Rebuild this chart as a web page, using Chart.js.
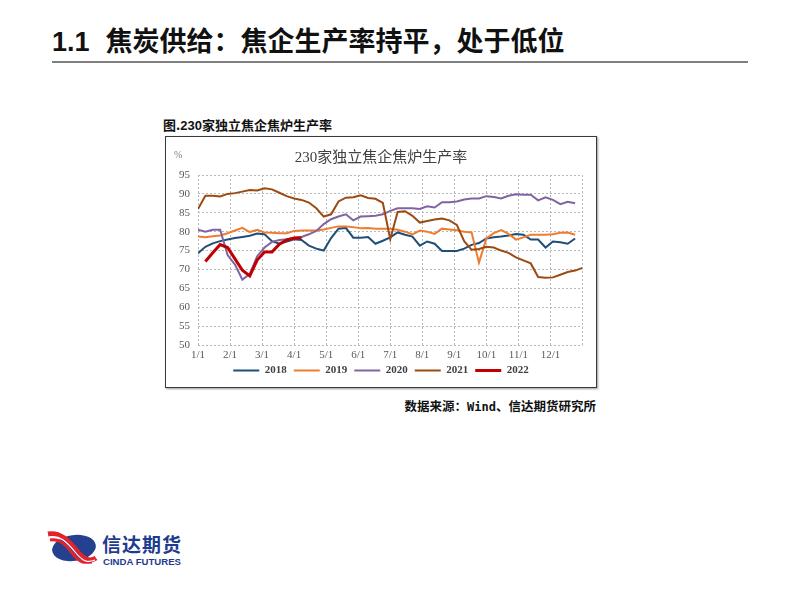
<!DOCTYPE html>
<html>
<head>
<meta charset="utf-8">
<script src="https://cdn.jsdelivr.net/npm/chart.js@4/dist/chart.umd.min.js"></script>
<style>
  html, body { margin: 0; padding: 0; background: #fff; }
  body { width: 802px; height: 602px; position: relative; overflow: hidden; font-family: 'Noto Sans CJK SC', sans-serif; }
  .slide-title { position: absolute; left: 52px; top: 22px; font-size: 27px; font-weight: 700; color: #111; white-space: nowrap; line-height: 36px; }
  .slide-title .num { font-family: 'Liberation Sans Narrow', 'Liberation Sans', sans-serif; margin-right: 16px; }
  .rule { position: absolute; left: 52px; top: 61px; width: 696px; height: 2px; background: #7f7f7f; }
  .caption { position: absolute; left: 163px; top: 115px; font-size: 13px; font-weight: 700; color: #111; white-space: nowrap; }
  .caption .num { font-family: 'Liberation Sans', sans-serif; }
  .box { position: absolute; left: 165px; top: 136px; width: 430px; height: 250px; border: 1px solid #3a3a3a; box-shadow: 1px 1px 2px #999; }
  .box canvas { position: absolute; left: 0; top: 0; }
  .unit { position: absolute; left: 8px; top: 12px; font-family: 'Liberation Serif', serif; font-size: 10px; color: #7f7f7f; }
  .source { position: absolute; right: 206px; top: 396px; font-size: 12.5px; font-weight: 700; color: #111; white-space: nowrap; }
  .source .latin { font-family: 'DejaVu Sans Mono', monospace; font-size: 12px; }
  .logo { position: absolute; left: 46px; top: 528px; }
  .brand { position: absolute; left: 102px; top: 533px; font-size: 19px; font-weight: 700; color: #1f3b8f; letter-spacing: 1px; line-height: 22px; }
  .brand-en { position: absolute; left: 103px; top: 556px; font-family: 'Liberation Sans', sans-serif; font-size: 9.6px; font-weight: 700; color: #1f3b8f; }
</style>
</head>
<body>
<div class="slide-title"><span class="num">1.1</span>焦炭供给：焦企生产率持平，处于低位</div>
<div class="rule"></div>
<div class="caption">图.<span class="num">230</span>家独立焦企焦炉生产率</div>
<div class="box">
  <canvas id="rate-chart" width="430" height="250"></canvas>
  <div class="unit">%</div>
</div>
<div class="source">数据来源：<span class="latin">Wind</span>、信达期货研究所</div>
<svg class="logo" width="52" height="36" viewBox="0 0 52 36">
  <ellipse cx="28" cy="20" rx="22" ry="13" fill="#24408e" transform="rotate(-8 28 20)"/>
  <path d="M2 6 C 14 4, 22 12, 30 22 S 44 34, 50 30" stroke="#e3232c" stroke-width="5" fill="none"/>
  <path d="M4 12 C 14 10, 20 17, 27 26 S 38 35, 46 34" stroke="#e3232c" stroke-width="3" fill="none"/>
  <path d="M3 9 C 14 7, 21 14, 29 24 S 42 35, 49 32" stroke="#ffffff" stroke-width="1.2" fill="none"/>
</svg>
<div class="brand">信达期货</div>
<div class="brand-en">CINDA FUTURES</div>

<script>
const monthLabels = ['1/1', '2/1', '3/1', '4/1', '5/1', '6/1', '7/1', '8/1', '9/1', '10/1', '11/1', '12/1']
const weeksPerYear = 52

const seriesNames = ['2018', '2019', '2020', '2021', '2022']

const rate2018 = [
  74.3, 76, 76.9, 77.5, 77.9, 78.3, 78.6, 78.9, 79.5, 79.3, 77.5, 76.8, 77.4,
  78, 77.8, 76.3, 75.5, 75, 78.3, 80.8, 81, 78.4, 78.4, 78.6, 76.8, 77.6,
  78.5, 79.8, 79.2, 78.7, 76.3, 77.4, 76.8, 74.9, 74.9, 74.9, 75.5, 76.5, 77,
  78.2, 78.5, 78.7, 79, 79.4, 79.2, 77.9, 77.9, 75.8, 77.4, 77.2, 76.8, 78.2,
]
const rate2019 = [
  78.7, 78.5, 78.8, 79, 79.6, 80.3, 81, 79.9, 80.5, 79.8, 79.7, 79.6, 79.6,
  80.2, 80.3, 80.3, 80.3, 80.6, 81, 81.4, 81.4, 81.2, 80.9, 81, 80.8, 80.8,
  80.8, 80.5, 80, 79.3, 80.3, 80, 79.4, 80.8, 80.6, 80.4, 80, 79.8, 71.8,
  78.2, 79.6, 80.4, 79.4, 77.9, 78.5, 79.2, 79.2, 79.2, 79.3, 79.7, 79.8, 79.2,
]
const rate2020 = [
  80.5, 80, 80.5, 80.5, 73.8, 71.3, 67.3, 68.8, 73.5, 75.8, 77.3, 77.8, 78,
  78.3, 78.6, 79.3, 80.2, 82, 83.3, 84, 84.6, 83, 84, 84.1, 84.2, 84.6,
  85.5, 86.2, 86.2, 86.2, 86, 86.7, 86.4, 87.8, 87.8, 88, 88.5, 88.8, 88.8,
  89.4, 89.2, 88.8, 89.5, 89.9, 89.8, 89.8, 88.3, 89.1, 88.4, 87.3, 87.9, 87.5,
]
const rate2021 = [
  86, 89.5, 89.5, 89.3, 90, 90.2, 90.6, 91, 90.9, 91.5, 91.2, 90.3, 89.4,
  88.8, 88.4, 87.7, 86.2, 84, 84.6, 88, 89, 89.1, 89.6, 88.9, 88.7, 87.6,
  78, 85.2, 85.4, 84.2, 82.4, 82.8, 83.2, 83.5, 83, 81.8, 77.5, 75.2, 75.4,
  76, 75.8, 75, 74.4, 73.2, 72.4, 71.6, 68, 67.8, 67.9, 68.6, 69.3, 69.7, 70.4,
]
const rate2022 = [null, 72.1, 74.4, 76.6, 75.8, 72.8, 69.8, 68.3, 72.5, 74.6, 74.6, 76.7, 77.8, 78.3, 78.4]

const seriesValues = [rate2018, rate2019, rate2020, rate2021, rate2022]
const seriesColors = ['#1f4e79', '#ed7d31', '#8064a2', '#9c4a12', '#c00000']
const seriesWidths = [2, 2, 2, 2, 3]
const drawOrder = [4, 3, 2, 1, 0]

const tickFont = { family: "'Liberation Serif', serif", size: 11 }
const gridColor = '#b8b8b8'

// weekly points placed on a month axis (12 months = 52 weeks)
const datasets = seriesNames.map((name, idx) => ({
  label: name,
  data: seriesValues[idx].map((v, i) => ({ x: (i * 12) / weeksPerYear, y: v })),
  borderColor: seriesColors[idx],
  backgroundColor: seriesColors[idx],
  borderWidth: seriesWidths[idx],
  pointRadius: 0,
  tension: 0,
  order: drawOrder[idx],
}))

const ctx = document.getElementById('rate-chart').getContext('2d')
new Chart(ctx, {
  type: 'line',
  data: { datasets },
  options: {
    responsive: false,
    animation: false,
    layout: { padding: { left: 0, right: 0, top: 0, bottom: 1 } },
    plugins: {
      title: {
        display: true,
        text: '230家独立焦企焦炉生产率',
        color: '#404040',
        font: { family: "'Liberation Serif', 'Noto Sans CJK SC', serif", size: 15, weight: 'normal' },
        padding: { top: 12, bottom: 8 },
      },
      legend: {
        position: 'bottom',
        labels: {
          usePointStyle: true,
          pointStyle: 'line',
          pointStyleWidth: 26,
          boxHeight: 11,
          padding: 7,
          color: '#404040',
          font: { family: "'Liberation Serif', serif", size: 11, weight: 'bold' },
          sort: (a, b) => a.datasetIndex - b.datasetIndex,
        },
      },
      tooltip: { enabled: false },
    },
    scales: {
      x: {
        type: 'linear',
        min: 0,
        max: 12,
        ticks: {
          stepSize: 1,
          autoSkip: false,
          maxRotation: 0,
          padding: 4,
          color: '#595959',
          font: tickFont,
          callback: (v) => monthLabels[v] || '',
        },
        grid: { color: gridColor, drawTicks: false },
        border: { display: false, dash: [2, 2] },
        afterFit: (scale) => {
          scale.height = 13
        },
      },
      y: {
        min: 50,
        max: 95,
        ticks: { stepSize: 5, padding: 8, color: '#595959', font: tickFont },
        grid: { color: gridColor, drawTicks: false },
        border: { display: false, dash: [2, 2] },
        afterFit: (scale) => {
          scale.width = 32
        },
      },
      // empty right-hand axis, only keeps a margin on the right of the plot
      yRight: {
        position: 'right',
        min: 50,
        max: 95,
        ticks: { display: false },
        grid: { display: false },
        border: { display: false },
        afterFit: (scale) => {
          scale.width = 13.5
        },
      },
    },
  },
})
</script>
</body>
</html>
